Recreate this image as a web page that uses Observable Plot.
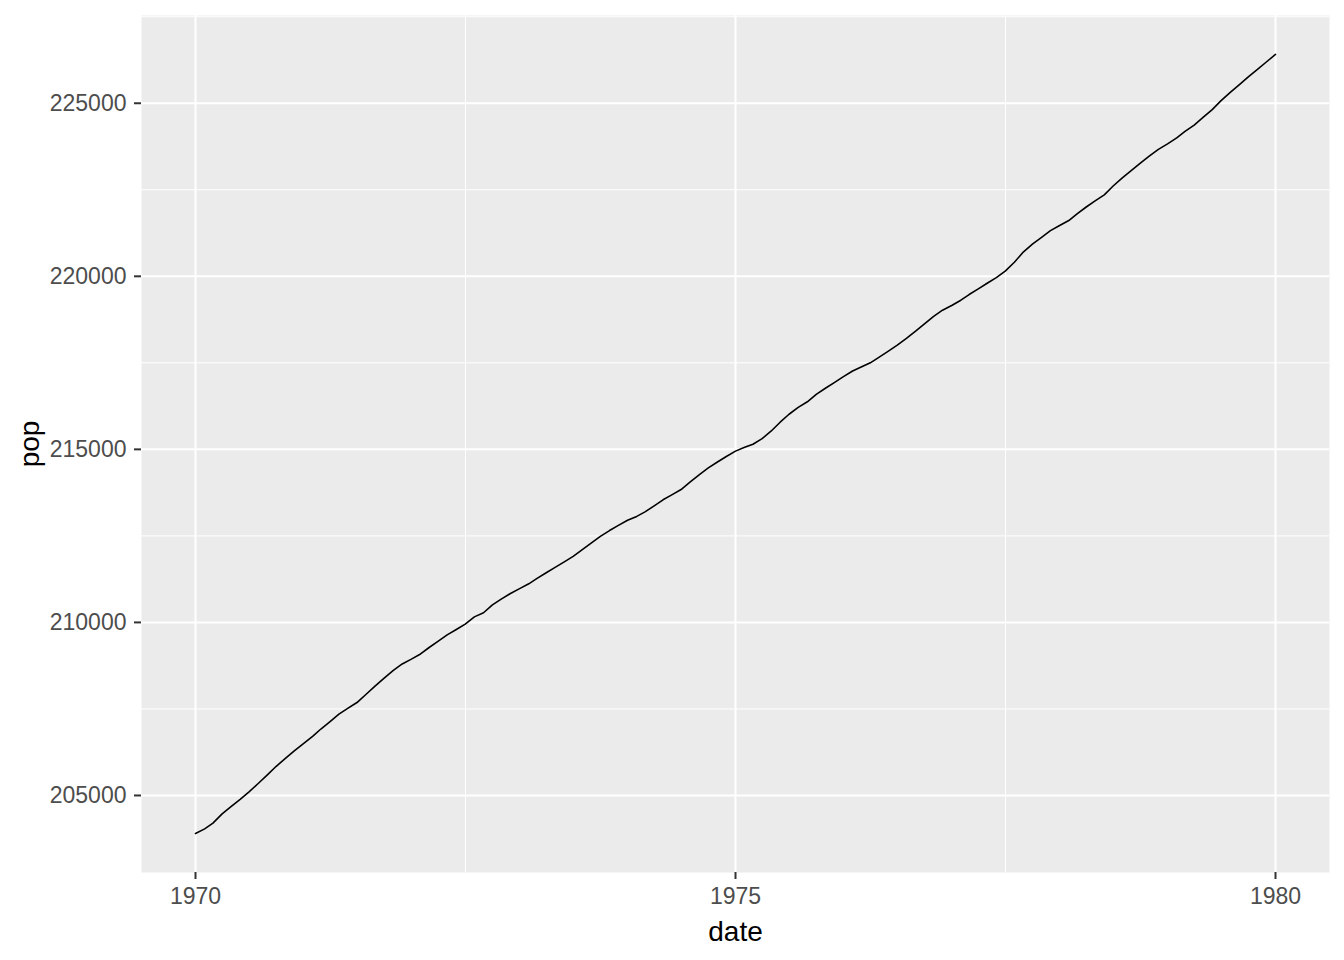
<!DOCTYPE html>
<html>
<head>
<meta charset="utf-8">
<script src="https://cdn.jsdelivr.net/npm/d3@7"></script>
<script src="https://cdn.jsdelivr.net/npm/@observablehq/plot@0.6"></script>
<style>
  html, body { margin: 0; padding: 0; background: #ffffff; }
  #chart svg { display: block; }
</style>
</head>
<body>
<div id="chart"></div>
<script>
// Monthly US population (thousands), Jan 1970 .. Jan 1980
const startYear = 1970;
const popValues = [
  203900, 204035, 204200, 204470, 204680, 204890, 205104, 205345, 205594, 205843, 206071, 206290,
  206499, 206708, 206920, 207135, 207350, 207524, 207685, 207925, 208166, 208393, 208612, 208800,
  208940, 209089, 209275, 209460, 209641, 209796, 209950, 210160, 210280, 210506, 210681, 210837,
  210976, 211115, 211271, 211434, 211592, 211750, 211910, 212103, 212300, 212487, 212654, 212803,
  212950, 213063, 213193, 213368, 213543, 213691, 213840, 214059, 214273, 214467, 214634, 214793,
  214949, 215060, 215149, 215310, 215524, 215785, 216015, 216213, 216375, 216591, 216765, 216930,
  217101, 217264, 217381, 217500, 217664, 217837, 218012, 218207, 218415, 218628, 218845, 219021,
  219157, 219310, 219473, 219637, 219800, 219963, 220151, 220406, 220708, 220932, 221127, 221320,
  221470, 221612, 221806, 222003, 222178, 222354, 222610, 222846, 223060, 223273, 223481, 223668,
  223825, 224001, 224185, 224370, 224590, 224817, 225075, 225314, 225541, 225763, 225976, 226192,
  226410
];
const xTickYears = [1970, 1975, 1980];
const yTicks = [205000, 210000, 215000, 220000, 225000];
const yMinor = [207500, 212500, 217500, 222500, 227500];
const xLabel = "date";
const yLabel = "pop";

const data = popValues.map((v, i) => ({
  date: new Date(Date.UTC(startYear + Math.floor(i / 12), i % 12, 1)),
  pop: v
}));

const xTicks = xTickYears.map(y => new Date(Date.UTC(y, 0, 1)));
const xMinor = [];
for (let i = 0; i + 1 < xTicks.length; i++) {
  xMinor.push(new Date((+xTicks[i] + +xTicks[i + 1]) / 2));
}

const t0 = +data[0].date, t1 = +data[data.length - 1].date;
const xpad = (t1 - t0) * 0.05;
const pMin = d3.min(popValues), pMax = d3.max(popValues);
const ypad = (pMax - pMin) * 0.05;

const font = "'Liberation Sans', Arial, Helvetica, sans-serif";

const chart = Plot.plot({
  width: 1344,
  height: 960,
  marginLeft: 141,
  marginRight: 15,
  marginTop: 15,
  marginBottom: 88,
  style: { fontFamily: font, fontSize: "23px", background: "#ffffff" },
  x: { type: "utc", domain: [new Date(t0 - xpad), new Date(t1 + xpad)] },
  y: { domain: [pMin - ypad, pMax + ypad] },
  marks: [
    Plot.frame({ fill: "#EBEBEB", stroke: null }),
    Plot.ruleY(yMinor, { stroke: "#ffffff", strokeWidth: 1 }),
    Plot.ruleX(xMinor, { stroke: "#ffffff", strokeWidth: 1 }),
    Plot.ruleY(yTicks, { stroke: "#ffffff", strokeWidth: 2 }),
    Plot.ruleX(xTicks, { stroke: "#ffffff", strokeWidth: 2 }),
    Plot.line(data, { x: "date", y: "pop", stroke: "#000000", strokeWidth: 1.6 }),
    Plot.axisX({
      ticks: xTicks, tickFormat: d3.utcFormat("%Y"), tickSize: 7, tickPadding: 8,
      stroke: "#333333", fill: "#4D4D4D", strokeWidth: 2, label: null, fontSize: 23
    }),
    Plot.axisY({
      ticks: yTicks, tickFormat: d3.format("d"), tickSize: 7, tickPadding: 8,
      stroke: "#333333", fill: "#4D4D4D", strokeWidth: 2, label: null, fontSize: 23
    }),
    Plot.text([xLabel], {
      frameAnchor: "bottom", dy: 68, lineAnchor: "bottom", textAnchor: "middle", text: d => d,
      fontSize: 28, fill: "#000000"
    }),
    Plot.text([yLabel], {
      frameAnchor: "left", dx: -103, lineAnchor: "bottom", textAnchor: "middle", rotate: -90, text: d => d,
      fontSize: 28, fill: "#000000"
    })
  ]
});

document.getElementById("chart").appendChild(chart);
</script>
</body>
</html>
